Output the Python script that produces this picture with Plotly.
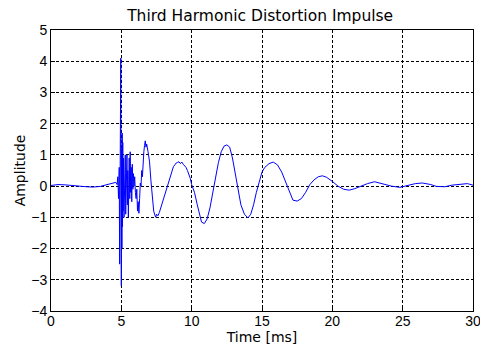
import plotly.graph_objects as go

time_ms = [0, 0.5, 1.0, 1.5, 2.0, 2.5, 3.0, 3.5, 4.0, 4.3, 4.6, 4.7, 4.75, 4.8, 4.85, 4.88, 4.91, 4.94,
           4.96, 4.98, 5.0, 5.02, 5.04, 5.06, 5.08, 5.1, 5.13, 5.16, 5.19, 5.22, 5.25, 5.28, 5.31,
           5.34, 5.37, 5.40, 5.43, 5.46, 5.50, 5.53, 5.56, 5.60, 5.63, 5.66, 5.70, 5.74, 5.78,
           5.82, 5.86, 5.90, 5.95, 6.0, 6.05, 6.1, 6.15, 6.2, 6.25, 6.3, 6.35, 6.4, 6.45, 6.5,
           6.55, 6.6, 6.65, 6.7, 6.75, 6.8, 6.9, 7.0, 7.1, 7.2, 7.3, 7.4, 7.45, 7.5, 7.6, 7.7,
           7.8, 7.9, 8.0, 8.1, 8.2, 8.3, 8.4, 8.5, 8.6, 8.7, 8.8, 8.9, 9.0, 9.1, 9.2, 9.3, 9.4,
           9.5, 9.6, 9.7, 9.8, 9.9, 10.0, 10.2, 10.4, 10.6, 10.7, 10.9, 11.1, 11.3, 11.5, 11.7,
           11.9, 12.1, 12.3, 12.5, 12.7, 12.9, 13.1, 13.3, 13.5, 13.75, 14.0, 14.2, 14.4, 14.6,
           14.8, 15.0, 15.2, 15.5, 15.8, 16.1, 16.4, 16.7, 17.0, 17.2, 17.5, 17.8, 18.1, 18.4,
           18.7, 19.0, 19.3, 19.6, 20.0, 20.4, 20.8, 21.2, 21.6, 22.0, 22.5, 23.0, 23.5, 24.2,
           24.8, 25.4, 25.9, 26.4, 27.0, 27.4, 28.0, 28.5, 29.1, 29.6, 30.0]

amplitude = [0.02, 0.05, 0.04, 0.03, 0.0, -0.02, -0.03, -0.01, 0.04, 0.08, 0.12, 0.05, 0.3, -0.4,
             0.6, -2.5, 1.0, 0.8, 4.1, -1.0, -3.2, 1.2, -2.0, 1.7, -1.3, 1.4, -0.8, 0.9, -1.0,
             0.6, -0.5, 1.0, -0.9, 0.4, -0.3, 1.0, -0.6, 0.5, -1.0, 0.3, 0.9, -0.4, 1.1, -0.2,
             0.6, -0.5, 0.7, -0.1, 0.4, 0.0, 0.3, -0.2, -0.4, -0.1, -0.8, -0.5, -0.87, -0.4, 0.1,
             0.0, 0.5, 0.3, 0.9, 1.1, 1.3, 1.45, 1.25, 1.35, 1.1, 0.8, 0.2, -0.4, -0.8, -0.95,
             -1.0, -0.9, -0.95, -0.85, -0.7, -0.5, -0.35, -0.2, -0.05, 0.1, 0.25, 0.4, 0.5, 0.62,
             0.68, 0.74, 0.76, 0.78, 0.72, 0.77, 0.7, 0.66, 0.6, 0.5, 0.4, 0.25, 0.05, -0.2, -0.6,
             -0.95, -1.15, -1.2, -1.05, -0.7, -0.2, 0.3, 0.75, 1.1, 1.28, 1.32, 1.25, 0.9, 0.4,
             -0.15, -0.6, -0.9, -1.02, -0.9, -0.6, -0.2, 0.15, 0.45, 0.6, 0.72, 0.77, 0.68, 0.45,
             0.1, -0.25, -0.45, -0.48, -0.4, -0.2, 0.05, 0.2, 0.3, 0.33, 0.28, 0.15, 0.0, -0.1,
             -0.13, -0.08, 0.0, 0.08, 0.14, 0.08, 0.0, -0.04, 0.02, 0.08, 0.1, 0.05, -0.01, -0.02,
             0.03, 0.07, 0.08, 0.03, 0.0]

x_ticks = [0, 5, 10, 15, 20, 25, 30]
y_ticks = [-4, -3, -2, -1, 0, 1, 2, 3, 4, 5]

FONT = "DejaVu Sans, sans-serif"
TICKFONT = "Liberation Sans, Arial, sans-serif"

fig = go.Figure()
fig.add_trace(go.Scatter(x=time_ms, y=amplitude, mode="lines",
                         line=dict(color="#0000ff", width=1), showlegend=False))

axis_common = dict(
    showgrid=True, gridcolor="#000000", gridwidth=1, griddash="3px,2px",
    showline=True, linecolor="#000000", linewidth=1, mirror=True,
    ticks="inside", ticklen=4, tickcolor="#000000",
    zeroline=False, automargin=False, ticklabeloverflow="allow",
    tickfont=dict(family=TICKFONT, size=14, color="#000000"),
)

fig.update_layout(
    width=480, height=345,
    margin=dict(l=51, r=7, t=30, b=34, autoexpand=False),
    paper_bgcolor="#ffffff", plot_bgcolor="#ffffff",
    title=dict(text="Third Harmonic Distortion Impulse", x=0.542, xanchor="center",
               y=1 - 16 / 345, yanchor="middle",
               font=dict(family=FONT, size=15.5, color="#000000")),
    xaxis=dict(range=[0, 30], tickvals=x_ticks, ticktext=[str(v) for v in x_ticks],
               ticklabelstandoff=-3,
               title=dict(text="Time [ms]", standoff=0,
                          font=dict(family=FONT, size=14, color="#000000")),
               **axis_common),
    yaxis=dict(range=[-4, 5], tickvals=y_ticks,
               ticktext=[("\u2212" + str(-v)) if v < 0 else str(v) for v in y_ticks],
               title=dict(text="Amplitude", standoff=2,
                          font=dict(family=FONT, size=14, color="#000000")),
               **axis_common),
)

fig.write_html("out.html")
